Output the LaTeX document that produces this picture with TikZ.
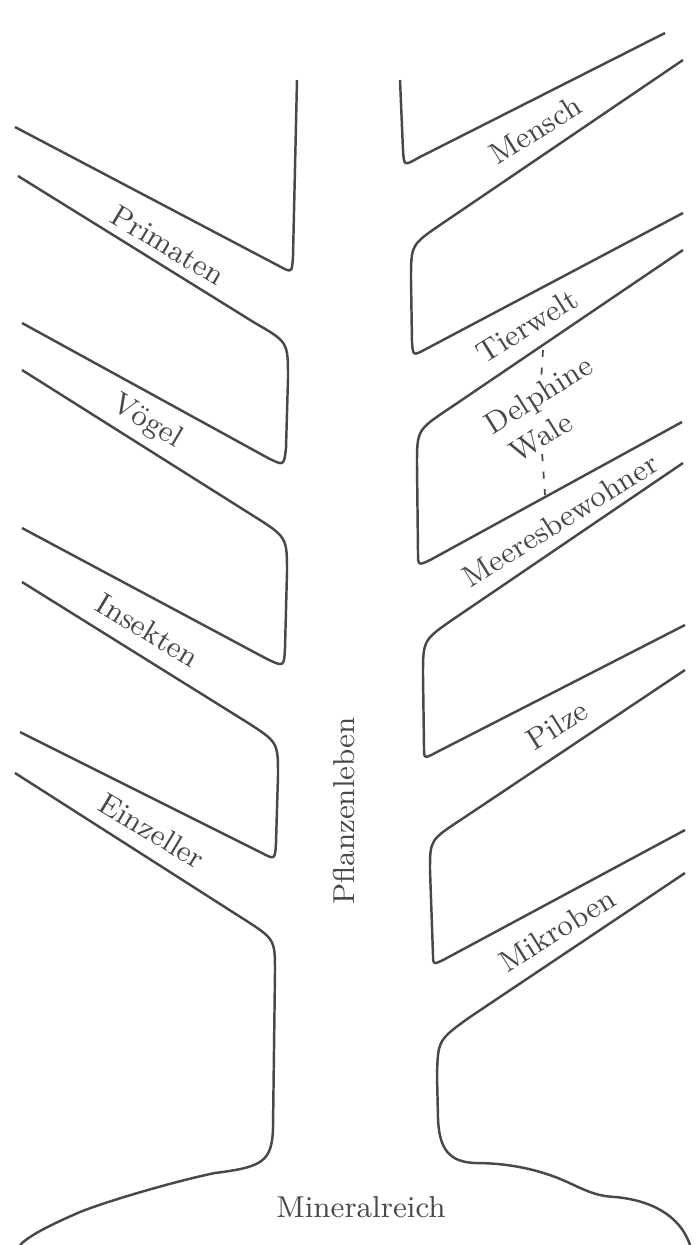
\documentclass[tikz,border=0pt]{standalone}
\usepackage{fontspec}
\usepackage{tikz}
\usetikzlibrary{positioning}
\definecolor{inkgray}{RGB}{72,72,72}

\begin{document}
\begin{tikzpicture}[x=0.01cm, y=-0.01cm,
    branch/.style={draw=inkgray, line width=0.7pt, line join=round},
    lbl/.style={text=inkgray, font=\fontsize{8.6}{10}\selectfont, inner sep=1pt}]
  \useasboundingbox (0,0) rectangle (696,1245);
  % left side of the trunk
  \draw[branch] (15,127) -- (279,266) .. controls (292,273) .. (293,256) -- (297,80);
  \draw[branch] (18,176) -- (255,323) .. controls (288,342) .. (288,378) -- (286,448)
    .. controls (284,466) .. (268,458) -- (22,323);
  \draw[branch] (22,370) -- (252,515) .. controls (287,537) .. (287,572) -- (285,648)
    .. controls (284,667) .. (267,659) -- (22,528);
  \draw[branch] (22,582) -- (245,721) .. controls (278,742) .. (278,775) -- (276,843)
    .. controls (275,860) .. (260,852) -- (20,732);
  \draw[branch] (15,773) -- (242,918) .. controls (275,939) .. (275,972) -- (273,1128)
    .. controls (272,1162) and (262,1167) .. (215,1173)
    .. controls (180,1180) and (110,1200) .. (80,1212)
    .. controls (50,1225) and (30,1235) .. (20,1245);
  % right side of the trunk
  \draw[branch] (400,80) -- (403,150) .. controls (404,166) .. (418,158) -- (665,33);
  \draw[branch] (683,60) -- (440,225) .. controls (411,245) .. (411,280) -- (412,342)
    .. controls (413,356) .. (426,349) -- (683,213);
  \draw[branch] (683,250) -- (450,408) .. controls (417,430) .. (417,465) -- (418,552)
    .. controls (418,566) .. (432,559) -- (682,422);
  \draw[branch] (683,463) -- (455,618) .. controls (423,640) .. (423,675) -- (424,747)
    .. controls (424,759) .. (437,752) -- (685,625);
  \draw[branch] (685,670) -- (462,819) .. controls (430,840) .. (430,870) -- (433,955)
    .. controls (433,965) .. (445,959) -- (685,830);
  \draw[branch] (685,873) -- (470,1017) .. controls (438,1040) .. (437,1075) -- (438,1118)
    .. controls (439,1150) and (450,1162) .. (475,1163)
    .. controls (510,1163) and (540,1170) .. (565,1181)
    .. controls (585,1190) and (595,1196) .. (615,1197)
    .. controls (650,1200) and (680,1215) .. (690,1245);

  % labels
  \node[lbl, rotate=-31] (primaten) at (168,245) {Primaten};
  \node[lbl, rotate=-31] (voegel) at (147,422) {Vögel};
  \node[lbl, rotate=-31] (insekten) at (148,630) {Insekten};
  \node[lbl, rotate=-31] (einzeller) at (152,831) {Einzeller};
  \node[lbl, rotate=32] (mensch) at (535,130) {Mensch};
  \node[lbl, rotate=32] (tierwelt) at (527,326) {Tierwelt};
  \node[lbl, rotate=32] (delphine) at (540,397) {Delphine};
  \node[lbl, rotate=32] (wale) at (541,437) {Wale};
  \node[lbl, rotate=32] (meer) at (560,520) {Meeresbewohner};
  \node[lbl, rotate=32] (pilze) at (557,725) {Pilze};
  \node[lbl, rotate=32] (mikroben) at (557,930) {Mikroben};
  \node[lbl, rotate=90] (pflanzen) at (344,811) {Pflanzenleben};
  \node[lbl] (mineral) at (361,1207) {Mineralreich};

  \coordinate (twline) at (543,350);
  \coordinate (mbline) at (545,495);
  \draw[inkgray, line width=0.5pt, dash pattern=on 2pt off 3pt] (twline) -- (delphine);
  \draw[inkgray, line width=0.5pt, dash pattern=on 2pt off 3pt] (wale) -- (mbline);
\end{tikzpicture}
\end{document}
